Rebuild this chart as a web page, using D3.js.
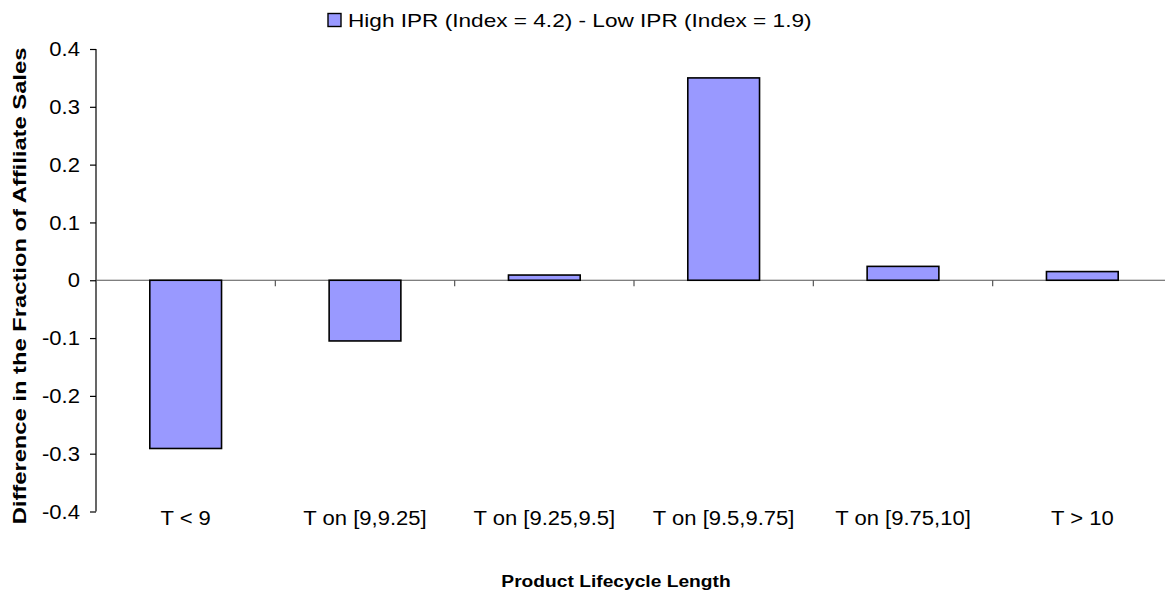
<!DOCTYPE html>
<meta charset="utf-8" />
<script src="https://d3js.org/d3.v7.min.js"></script>
<style>
  body { margin: 0; background: #fff; }
  text { font-family: 'Liberation Sans', Arial, sans-serif; fill: #000; }
</style>
<div id="my_dataviz"></div>
<script>
  // data
  var categories = ['T < 9', 'T on [9,9.25]', 'T on [9.25,9.5]', 'T on [9.5,9.75]', 'T on [9.75,10]', 'T > 10'];
  var values = [-0.291, -0.105, 0.009, 0.35, 0.024, 0.015];
  var yTicks = [0.4, 0.3, 0.2, 0.1, 0, -0.1, -0.2, -0.3, -0.4];
  var seriesName = 'High IPR (Index = 4.2) - Low IPR (Index = 1.9)';

  var width = 1165, height = 598;
  var stretch = 1.13; // text in the original is drawn a little wider than normal

  var svg = d3.select('#my_dataviz')
    .append('svg')
    .attr('width', width)
    .attr('height', height);

  // plot area runs past the right edge, as in the original
  var x = d3.scaleBand().domain(categories).range([96, 1172]).paddingInner(0.6).paddingOuter(0.3);
  var y = d3.scaleLinear().domain([-0.4, 0.4]).range([511.5, 49]);

  // Y axis
  var yAxis = svg.append('g')
    .attr('transform', 'translate(96,0)')
    .call(d3.axisLeft(y).tickValues(yTicks).tickSize(6)
      .tickFormat(function (d) { return d === 0 ? '0' : d.toFixed(1); }));
  yAxis.select('.domain').attr('stroke', '#000').attr('stroke-width', 1.2)
    .attr('d', 'M0,' + y(0.4) + 'V' + y(-0.4));
  yAxis.selectAll('.tick line').attr('stroke', '#000').attr('stroke-width', 1.2);
  yAxis.selectAll('.tick text')
    .attr('x', 0)
    .attr('dy', '0.34em')
    .attr('transform', 'translate(-16,0) scale(' + stretch + ',1)')
    .style('font-size', '19.5px');

  // zero line with category ticks
  var xAxis = svg.append('g')
    .attr('transform', 'translate(0,' + y(0) + ')');
  xAxis.append('line')
    .attr('x1', 96).attr('x2', width)
    .attr('stroke', '#555').attr('stroke-width', 1.2);
  xAxis.selectAll('.sep')
    .data(categories.slice(1))
    .enter()
    .append('line')
    .attr('x1', function (d) { return x(d) - x.step() * 0.3; })
    .attr('x2', function (d) { return x(d) - x.step() * 0.3; })
    .attr('y1', 0).attr('y2', 6)
    .attr('stroke', '#555').attr('stroke-width', 1.2);

  // bars
  svg.append('g')
    .selectAll('rect')
    .data(values)
    .enter()
    .append('rect')
    .attr('x', function (d, i) { return x(categories[i]); })
    .attr('width', x.bandwidth())
    .attr('y', function (d) { return y(Math.max(0, d)); })
    .attr('height', function (d) { return Math.abs(y(d) - y(0)); })
    .attr('fill', '#9999FF')
    .attr('stroke', '#000')
    .attr('stroke-width', 1.6);

  // category labels
  svg.append('g')
    .selectAll('text')
    .data(categories)
    .enter()
    .append('text')
    .attr('transform', function (d) {
      return 'translate(' + (x(d) + x.bandwidth() / 2) + ',525) scale(' + stretch + ',1)';
    })
    .attr('text-anchor', 'middle')
    .style('font-size', '19.5px')
    .text(function (d) { return d; });

  // X label
  svg.append('text')
    .attr('transform', 'translate(616,587) scale(' + stretch + ',1)')
    .attr('text-anchor', 'middle')
    .style('font-size', '17px')
    .style('font-weight', 'bold')
    .text('Product Lifecycle Length');

  // Y label
  svg.append('text')
    .attr('text-anchor', 'middle')
    .attr('transform', 'translate(25.5,286) rotate(-90) scale(1.32,1)')
    .style('font-size', '18px')
    .style('font-weight', 'bold')
    .text('Difference in the Fraction of Affiliate Sales');

  // legend
  var legend = svg.append('g');
  legend.append('rect')
    .attr('x', 328).attr('y', 13.5)
    .attr('width', 13).attr('height', 13)
    .attr('fill', '#9999FF').attr('stroke', '#000').attr('stroke-width', 1.4);
  legend.append('text')
    .attr('transform', 'translate(348,27) scale(1.19,1)')
    .style('font-size', '19px')
    .text(seriesName);
</script>
